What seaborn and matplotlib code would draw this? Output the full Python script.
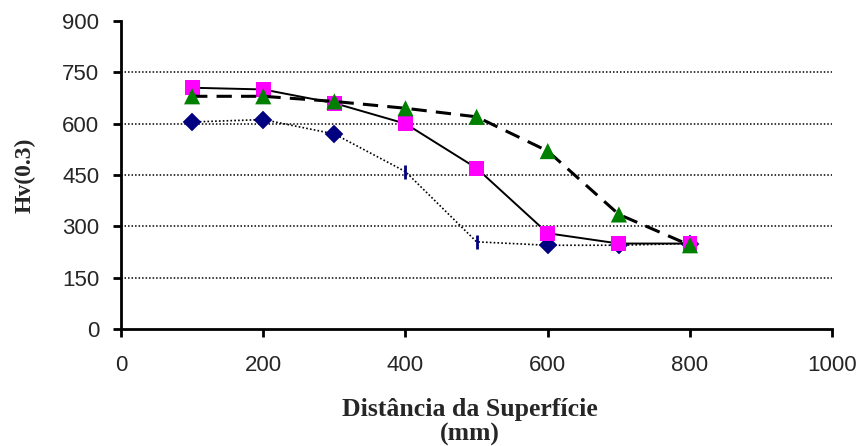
import matplotlib
matplotlib.use('Agg')
import matplotlib.pyplot as plt
import seaborn as sns

# distance from surface and hardness profiles
distancia = [100, 200, 300, 400, 500, 600, 700, 800]
hv_azul = [605, 612, 570, 460, 255, 245, 245, 250]
hv_rosa = [705, 700, 660, 600, 470, 280, 250, 250]
hv_verde = [680, 680, 665, 645, 620, 520, 335, 245]
azul_simbolo = ['D', 'D', 'D', '|', '|', 'D', 'D', 'D']

sns.set_style('white')

fig, ax = plt.subplots(figsize=(8.58, 4.46), dpi=100)
fig.subplots_adjust(left=0.141, right=0.970, top=0.953, bottom=0.262)

# dotted series (navy)
sns.lineplot(x=distancia, y=hv_azul, color='black', linestyle=(0, (1, 1.3)),
             linewidth=1.2, ax=ax, zorder=3)
for x, y, m in zip(distancia, hv_azul, azul_simbolo):
    ax.plot(x, y, marker=m, color='#000080', markersize=9.5 if m == 'D' else 10,
            markeredgewidth=2 if m == '|' else 0.3, zorder=4)

# solid series (magenta)
sns.lineplot(x=distancia, y=hv_rosa, color='black', linewidth=1.4, ax=ax, zorder=5)
sns.scatterplot(x=distancia, y=hv_rosa, marker='s', color='#FF00FF', s=115,
                edgecolor='none', ax=ax, zorder=6)

# dashed series (green)
sns.lineplot(x=distancia, y=hv_verde, color='black', linestyle=(0, (5, 3)),
             linewidth=2.2, ax=ax, zorder=7)
sns.scatterplot(x=distancia, y=hv_verde, marker='^', color='#008000', s=135,
                edgecolor='none', ax=ax, zorder=8)

ax.set_xlim(0, 1000)
ax.set_ylim(0, 900)
ax.set_xticks(range(0, 1001, 200))
ax.set_yticks(range(0, 901, 150))

for v in range(150, 900, 150):
    ax.axhline(v, color='black', linestyle=(0, (1, 1.3)), linewidth=1.1, zorder=1)

for s in ['top', 'right']:
    ax.spines[s].set_visible(False)
for s in ['left', 'bottom']:
    ax.spines[s].set_linewidth(2)
    ax.spines[s].set_color('black')

ax.tick_params(axis='both', direction='out', length=5.5, width=2, color='black',
               labelsize=16, left=True, bottom=True)
ax.tick_params(axis='x', pad=13)
ax.tick_params(axis='y', pad=10)
for lab in ax.get_xticklabels() + ax.get_yticklabels():
    lab.set_family('Liberation Sans')

ax.set_xlabel('Distância da Superfície\n(mm)', family='Liberation Serif',
              fontweight='bold', fontsize=18.5, linespacing=1.05)
ax.xaxis.set_label_coords(0.49, -0.225)
ax.set_ylabel('Hv(0.3)', family='Liberation Serif', fontweight='bold',
              fontsize=17)
ax.yaxis.set_label_coords(-0.12, 0.5)

plt.savefig('out.png', dpi=100)
